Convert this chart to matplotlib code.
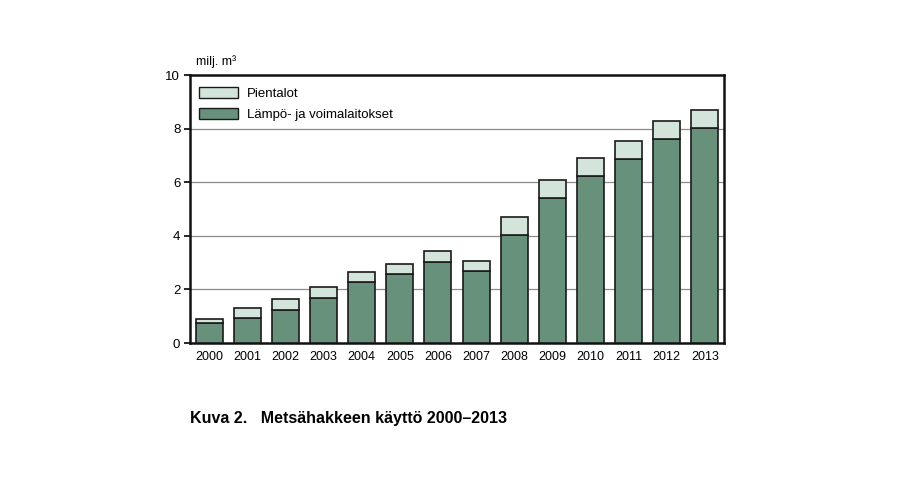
import numpy as np
import matplotlib.pyplot as plt
from matplotlib.patches import Patch

plt.rcParams['font.family'] = ['Liberation Sans', 'DejaVu Sans']

years = ['2000', '2001', '2002', '2003', '2004', '2005', '2006',
         '2007', '2008', '2009', '2010', '2011', '2012', '2013']
lampo = [0.75, 0.94, 1.24, 1.69, 2.29, 2.59, 3.04,
         2.68, 4.03, 5.41, 6.23, 6.87, 7.63, 8.04]
pientalot = [0.15, 0.37, 0.41, 0.41, 0.37, 0.37, 0.41,
             0.37, 0.67, 0.67, 0.67, 0.67, 0.67, 0.67]

dark = '#67917a'
light = '#d3e4da'

fig = plt.figure(figsize=(9.14, 4.87), dpi=100)
ax = fig.add_axes([190 / 914, 1 - 343 / 487, 534 / 914, 268 / 487])

x = np.arange(len(years))
ax.bar(x, lampo, width=0.71, color=dark, edgecolor='#1a1a1a', linewidth=1.2, zorder=3)
ax.bar(x, pientalot, bottom=lampo, width=0.71, color=light, edgecolor='#1a1a1a',
       linewidth=1.2, zorder=3)

ax.set_xlim(-0.5, len(years) - 0.5)
ax.set_ylim(0, 10)
ax.set_yticks([0, 2, 4, 6, 8, 10])
ax.set_xticks(x)
ax.set_xticklabels(years)
ax.tick_params(axis='x', length=0, pad=6, labelsize=9)
ax.tick_params(axis='y', length=4, width=1.2, direction='out', pad=3, labelsize=9.5)
for v in [2, 4, 6, 8]:
    ax.axhline(v, color='#8c8c8c', linewidth=0.9, zorder=1)
for s in ax.spines.values():
    s.set_linewidth(1.8)
    s.set_color('#111111')

fig.text(196 / 914, 1 - 65 / 487, 'milj. m³', fontsize=9, va='baseline', ha='left')

handles = [Patch(facecolor=light, edgecolor='#1a1a1a', linewidth=1.0, label='Pientalot'),
           Patch(facecolor=dark, edgecolor='#1a1a1a', linewidth=1.0, label='Lämpö- ja voimalaitokset')]
ax.legend(handles=handles, loc='upper left', frameon=False, fontsize=9.5,
          handlelength=2.9, handleheight=0.9, handletextpad=0.7, labelspacing=0.6,
          borderaxespad=0.3, bbox_to_anchor=(0.0, 0.99))

fig.text(190 / 914, 1 - 423 / 487, 'Kuva 2.   Metsähakkeen käyttö 2000–2013',
         fontsize=11.5, fontweight='bold', va='baseline', ha='left')

fig.savefig('out.png', dpi=100)
